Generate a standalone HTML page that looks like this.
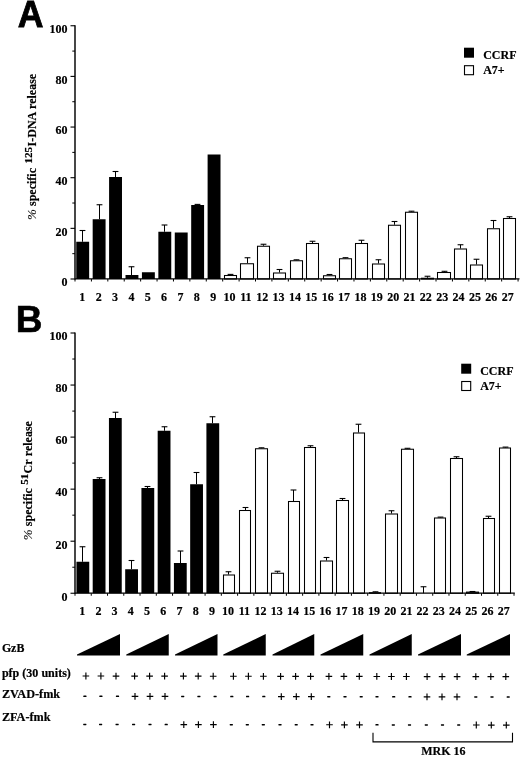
<!DOCTYPE html>
<html><head><meta charset="utf-8"><title>Figure</title>
<style>html,body{margin:0;padding:0;background:#fff}svg{display:block;will-change:transform}</style>
</head><body>
<svg width="520" height="757" viewBox="0 0 520 757">
<rect width="520" height="757" fill="#fff"/>
<text transform="translate(17.73,26.51) scale(0.99,1.031)" font-family="Liberation Sans, sans-serif" font-weight="bold" font-size="36" stroke="#000" stroke-width="0.8" stroke-linejoin="miter">A</text>
<text transform="translate(15.7,331.6) scale(1.027,1.033)" font-family="Liberation Sans, sans-serif" font-weight="bold" font-size="36" stroke="#000" stroke-width="0.6" stroke-linejoin="miter">B</text>
<line x1="75.0" y1="25.25" x2="75.0" y2="279.5" stroke="#000" stroke-width="1.45"/>
<line x1="70.5" y1="279.00" x2="75.0" y2="279.00" stroke="#000" stroke-width="1.1"/>
<text x="67.5" y="286.30" text-anchor="end" font-size="12" font-family="Liberation Serif, serif" font-weight="bold" stroke="#000" stroke-width="0.18">0</text>
<line x1="72.3" y1="253.68" x2="75.0" y2="253.68" stroke="#000" stroke-width="1"/>
<line x1="70.5" y1="228.35" x2="75.0" y2="228.35" stroke="#000" stroke-width="1.1"/>
<text x="67.5" y="235.65" text-anchor="end" font-size="12" font-family="Liberation Serif, serif" font-weight="bold" stroke="#000" stroke-width="0.18">20</text>
<line x1="72.3" y1="203.03" x2="75.0" y2="203.03" stroke="#000" stroke-width="1"/>
<line x1="70.5" y1="177.70" x2="75.0" y2="177.70" stroke="#000" stroke-width="1.1"/>
<text x="67.5" y="185.00" text-anchor="end" font-size="12" font-family="Liberation Serif, serif" font-weight="bold" stroke="#000" stroke-width="0.18">40</text>
<line x1="72.3" y1="152.38" x2="75.0" y2="152.38" stroke="#000" stroke-width="1"/>
<line x1="70.5" y1="127.05" x2="75.0" y2="127.05" stroke="#000" stroke-width="1.1"/>
<text x="67.5" y="134.35" text-anchor="end" font-size="12" font-family="Liberation Serif, serif" font-weight="bold" stroke="#000" stroke-width="0.18">60</text>
<line x1="72.3" y1="101.72" x2="75.0" y2="101.72" stroke="#000" stroke-width="1"/>
<line x1="70.5" y1="76.40" x2="75.0" y2="76.40" stroke="#000" stroke-width="1.1"/>
<text x="67.5" y="83.70" text-anchor="end" font-size="12" font-family="Liberation Serif, serif" font-weight="bold" stroke="#000" stroke-width="0.18">80</text>
<line x1="72.3" y1="51.08" x2="75.0" y2="51.08" stroke="#000" stroke-width="1"/>
<line x1="70.5" y1="25.75" x2="75.0" y2="25.75" stroke="#000" stroke-width="1.1"/>
<text x="67.5" y="33.05" text-anchor="end" font-size="12" font-family="Liberation Serif, serif" font-weight="bold" stroke="#000" stroke-width="0.18">100</text>
<line x1="82.50" y1="230.50" x2="82.50" y2="241.75" stroke="#000" stroke-width="1"/>
<line x1="79.60" y1="230.50" x2="85.40" y2="230.50" stroke="#000" stroke-width="1.1"/>
<rect x="76.25" y="241.75" width="12.90" height="37.25" fill="#000"/>
<line x1="99.50" y1="204.75" x2="99.50" y2="219.25" stroke="#000" stroke-width="1"/>
<line x1="96.60" y1="204.75" x2="102.40" y2="204.75" stroke="#000" stroke-width="1.1"/>
<rect x="92.67" y="219.25" width="12.90" height="59.75" fill="#000"/>
<line x1="115.50" y1="171.50" x2="115.50" y2="177.00" stroke="#000" stroke-width="1"/>
<line x1="112.60" y1="171.50" x2="118.40" y2="171.50" stroke="#000" stroke-width="1.1"/>
<rect x="109.09" y="177.00" width="12.90" height="102.00" fill="#000"/>
<line x1="131.50" y1="266.75" x2="131.50" y2="275.00" stroke="#000" stroke-width="1"/>
<line x1="128.60" y1="266.75" x2="134.40" y2="266.75" stroke="#000" stroke-width="1.1"/>
<rect x="125.51" y="275.00" width="12.90" height="4.00" fill="#000"/>
<rect x="141.93" y="272.25" width="12.90" height="6.75" fill="#000"/>
<line x1="164.50" y1="225.00" x2="164.50" y2="231.75" stroke="#000" stroke-width="1"/>
<line x1="161.60" y1="225.00" x2="167.40" y2="225.00" stroke="#000" stroke-width="1.1"/>
<rect x="158.35" y="231.75" width="12.90" height="47.25" fill="#000"/>
<rect x="174.77" y="232.50" width="12.90" height="46.50" fill="#000"/>
<line x1="197.50" y1="204.40" x2="197.50" y2="205.00" stroke="#000" stroke-width="1"/>
<line x1="194.60" y1="204.40" x2="200.40" y2="204.40" stroke="#000" stroke-width="1.1"/>
<rect x="191.19" y="205.00" width="12.90" height="74.00" fill="#000"/>
<rect x="207.61" y="154.50" width="12.90" height="124.50" fill="#000"/>
<line x1="230.50" y1="274.40" x2="230.50" y2="275.00" stroke="#000" stroke-width="1"/>
<line x1="227.60" y1="274.40" x2="233.40" y2="274.40" stroke="#000" stroke-width="1.1"/>
<rect x="224.50" y="275.50" width="12.00" height="3.50" fill="#fff" stroke="#000" stroke-width="1.05"/>
<line x1="247.50" y1="257.75" x2="247.50" y2="263.25" stroke="#000" stroke-width="1"/>
<line x1="244.60" y1="257.75" x2="250.40" y2="257.75" stroke="#000" stroke-width="1.1"/>
<rect x="240.50" y="263.75" width="13.00" height="15.25" fill="#fff" stroke="#000" stroke-width="1.05"/>
<line x1="263.50" y1="244.25" x2="263.50" y2="245.75" stroke="#000" stroke-width="1"/>
<line x1="260.60" y1="244.25" x2="266.40" y2="244.25" stroke="#000" stroke-width="1.1"/>
<rect x="257.50" y="246.25" width="12.00" height="32.75" fill="#fff" stroke="#000" stroke-width="1.05"/>
<line x1="279.50" y1="269.50" x2="279.50" y2="272.50" stroke="#000" stroke-width="1"/>
<line x1="276.60" y1="269.50" x2="282.40" y2="269.50" stroke="#000" stroke-width="1.1"/>
<rect x="273.50" y="273.00" width="12.00" height="6.00" fill="#fff" stroke="#000" stroke-width="1.05"/>
<line x1="296.50" y1="259.80" x2="296.50" y2="260.25" stroke="#000" stroke-width="1"/>
<line x1="293.60" y1="259.80" x2="299.40" y2="259.80" stroke="#000" stroke-width="1.1"/>
<rect x="290.50" y="260.75" width="12.00" height="18.25" fill="#fff" stroke="#000" stroke-width="1.05"/>
<line x1="312.50" y1="241.25" x2="312.50" y2="243.00" stroke="#000" stroke-width="1"/>
<line x1="309.60" y1="241.25" x2="315.40" y2="241.25" stroke="#000" stroke-width="1.1"/>
<rect x="306.50" y="243.50" width="12.00" height="35.50" fill="#fff" stroke="#000" stroke-width="1.05"/>
<line x1="329.50" y1="274.50" x2="329.50" y2="275.25" stroke="#000" stroke-width="1"/>
<line x1="326.60" y1="274.50" x2="332.40" y2="274.50" stroke="#000" stroke-width="1.1"/>
<rect x="323.50" y="275.75" width="12.00" height="3.25" fill="#fff" stroke="#000" stroke-width="1.05"/>
<line x1="345.50" y1="257.70" x2="345.50" y2="258.25" stroke="#000" stroke-width="1"/>
<line x1="342.60" y1="257.70" x2="348.40" y2="257.70" stroke="#000" stroke-width="1.1"/>
<rect x="339.50" y="258.75" width="12.00" height="20.25" fill="#fff" stroke="#000" stroke-width="1.05"/>
<line x1="361.50" y1="240.25" x2="361.50" y2="243.00" stroke="#000" stroke-width="1"/>
<line x1="358.60" y1="240.25" x2="364.40" y2="240.25" stroke="#000" stroke-width="1.1"/>
<rect x="355.50" y="243.50" width="12.00" height="35.50" fill="#fff" stroke="#000" stroke-width="1.05"/>
<line x1="378.50" y1="259.75" x2="378.50" y2="263.50" stroke="#000" stroke-width="1"/>
<line x1="375.60" y1="259.75" x2="381.40" y2="259.75" stroke="#000" stroke-width="1.1"/>
<rect x="372.50" y="264.00" width="12.00" height="15.00" fill="#fff" stroke="#000" stroke-width="1.05"/>
<line x1="394.50" y1="221.50" x2="394.50" y2="224.75" stroke="#000" stroke-width="1"/>
<line x1="391.60" y1="221.50" x2="397.40" y2="221.50" stroke="#000" stroke-width="1.1"/>
<rect x="388.50" y="225.25" width="12.00" height="53.75" fill="#fff" stroke="#000" stroke-width="1.05"/>
<line x1="411.50" y1="211.20" x2="411.50" y2="211.75" stroke="#000" stroke-width="1"/>
<line x1="408.60" y1="211.20" x2="414.40" y2="211.20" stroke="#000" stroke-width="1.1"/>
<rect x="405.50" y="212.25" width="12.00" height="66.75" fill="#fff" stroke="#000" stroke-width="1.05"/>
<line x1="427.50" y1="276.25" x2="427.50" y2="277.75" stroke="#000" stroke-width="1"/>
<line x1="424.60" y1="276.25" x2="430.40" y2="276.25" stroke="#000" stroke-width="1.1"/>
<rect x="421.50" y="278.25" width="12.00" height="0.75" fill="#fff" stroke="#000" stroke-width="1.05"/>
<line x1="444.50" y1="271.30" x2="444.50" y2="272.00" stroke="#000" stroke-width="1"/>
<line x1="441.60" y1="271.30" x2="447.40" y2="271.30" stroke="#000" stroke-width="1.1"/>
<rect x="437.50" y="272.50" width="13.00" height="6.50" fill="#fff" stroke="#000" stroke-width="1.05"/>
<line x1="460.50" y1="244.75" x2="460.50" y2="248.50" stroke="#000" stroke-width="1"/>
<line x1="457.60" y1="244.75" x2="463.40" y2="244.75" stroke="#000" stroke-width="1.1"/>
<rect x="454.50" y="249.00" width="12.00" height="30.00" fill="#fff" stroke="#000" stroke-width="1.05"/>
<line x1="476.50" y1="259.25" x2="476.50" y2="264.50" stroke="#000" stroke-width="1"/>
<line x1="473.60" y1="259.25" x2="479.40" y2="259.25" stroke="#000" stroke-width="1.1"/>
<rect x="470.50" y="265.00" width="12.00" height="14.00" fill="#fff" stroke="#000" stroke-width="1.05"/>
<line x1="493.50" y1="220.50" x2="493.50" y2="228.25" stroke="#000" stroke-width="1"/>
<line x1="490.60" y1="220.50" x2="496.40" y2="220.50" stroke="#000" stroke-width="1.1"/>
<rect x="487.50" y="228.75" width="12.00" height="50.25" fill="#fff" stroke="#000" stroke-width="1.05"/>
<line x1="509.50" y1="216.75" x2="509.50" y2="218.00" stroke="#000" stroke-width="1"/>
<line x1="506.60" y1="216.75" x2="512.40" y2="216.75" stroke="#000" stroke-width="1.1"/>
<rect x="503.50" y="218.50" width="12.00" height="60.50" fill="#fff" stroke="#000" stroke-width="1.05"/>
<line x1="75.0" y1="278.9" x2="519.5" y2="278.9" stroke="#000" stroke-width="1.4"/>
<line x1="75.00" y1="279.0" x2="75.00" y2="281.5" stroke="#000" stroke-width="1"/>
<line x1="91.41" y1="279.0" x2="91.41" y2="281.5" stroke="#000" stroke-width="1"/>
<line x1="107.82" y1="279.0" x2="107.82" y2="281.5" stroke="#000" stroke-width="1"/>
<line x1="124.23" y1="279.0" x2="124.23" y2="281.5" stroke="#000" stroke-width="1"/>
<line x1="140.64" y1="279.0" x2="140.64" y2="281.5" stroke="#000" stroke-width="1"/>
<line x1="157.05" y1="279.0" x2="157.05" y2="281.5" stroke="#000" stroke-width="1"/>
<line x1="173.46" y1="279.0" x2="173.46" y2="281.5" stroke="#000" stroke-width="1"/>
<line x1="189.87" y1="279.0" x2="189.87" y2="281.5" stroke="#000" stroke-width="1"/>
<line x1="206.28" y1="279.0" x2="206.28" y2="281.5" stroke="#000" stroke-width="1"/>
<line x1="222.69" y1="279.0" x2="222.69" y2="281.5" stroke="#000" stroke-width="1"/>
<line x1="239.10" y1="279.0" x2="239.10" y2="281.5" stroke="#000" stroke-width="1"/>
<line x1="255.51" y1="279.0" x2="255.51" y2="281.5" stroke="#000" stroke-width="1"/>
<line x1="271.92" y1="279.0" x2="271.92" y2="281.5" stroke="#000" stroke-width="1"/>
<line x1="288.33" y1="279.0" x2="288.33" y2="281.5" stroke="#000" stroke-width="1"/>
<line x1="304.74" y1="279.0" x2="304.74" y2="281.5" stroke="#000" stroke-width="1"/>
<line x1="321.15" y1="279.0" x2="321.15" y2="281.5" stroke="#000" stroke-width="1"/>
<line x1="337.56" y1="279.0" x2="337.56" y2="281.5" stroke="#000" stroke-width="1"/>
<line x1="353.97" y1="279.0" x2="353.97" y2="281.5" stroke="#000" stroke-width="1"/>
<line x1="370.38" y1="279.0" x2="370.38" y2="281.5" stroke="#000" stroke-width="1"/>
<line x1="386.79" y1="279.0" x2="386.79" y2="281.5" stroke="#000" stroke-width="1"/>
<line x1="403.20" y1="279.0" x2="403.20" y2="281.5" stroke="#000" stroke-width="1"/>
<line x1="419.61" y1="279.0" x2="419.61" y2="281.5" stroke="#000" stroke-width="1"/>
<line x1="436.02" y1="279.0" x2="436.02" y2="281.5" stroke="#000" stroke-width="1"/>
<line x1="452.43" y1="279.0" x2="452.43" y2="281.5" stroke="#000" stroke-width="1"/>
<line x1="468.84" y1="279.0" x2="468.84" y2="281.5" stroke="#000" stroke-width="1"/>
<line x1="485.25" y1="279.0" x2="485.25" y2="281.5" stroke="#000" stroke-width="1"/>
<line x1="501.66" y1="279.0" x2="501.66" y2="281.5" stroke="#000" stroke-width="1"/>
<line x1="518.07" y1="279.0" x2="518.07" y2="281.5" stroke="#000" stroke-width="1"/>
<text x="82.30" y="300.8" text-anchor="middle" font-size="12" font-family="Liberation Serif, serif" font-weight="bold" stroke="#000" stroke-width="0.18">1</text>
<text x="98.66" y="300.8" text-anchor="middle" font-size="12" font-family="Liberation Serif, serif" font-weight="bold" stroke="#000" stroke-width="0.18">2</text>
<text x="115.02" y="300.8" text-anchor="middle" font-size="12" font-family="Liberation Serif, serif" font-weight="bold" stroke="#000" stroke-width="0.18">3</text>
<text x="131.38" y="300.8" text-anchor="middle" font-size="12" font-family="Liberation Serif, serif" font-weight="bold" stroke="#000" stroke-width="0.18">4</text>
<text x="147.74" y="300.8" text-anchor="middle" font-size="12" font-family="Liberation Serif, serif" font-weight="bold" stroke="#000" stroke-width="0.18">5</text>
<text x="164.10" y="300.8" text-anchor="middle" font-size="12" font-family="Liberation Serif, serif" font-weight="bold" stroke="#000" stroke-width="0.18">6</text>
<text x="180.46" y="300.8" text-anchor="middle" font-size="12" font-family="Liberation Serif, serif" font-weight="bold" stroke="#000" stroke-width="0.18">7</text>
<text x="196.82" y="300.8" text-anchor="middle" font-size="12" font-family="Liberation Serif, serif" font-weight="bold" stroke="#000" stroke-width="0.18">8</text>
<text x="213.18" y="300.8" text-anchor="middle" font-size="12" font-family="Liberation Serif, serif" font-weight="bold" stroke="#000" stroke-width="0.18">9</text>
<text x="229.54" y="300.8" text-anchor="middle" font-size="12" font-family="Liberation Serif, serif" font-weight="bold" stroke="#000" stroke-width="0.18">10</text>
<text x="245.90" y="300.8" text-anchor="middle" font-size="12" font-family="Liberation Serif, serif" font-weight="bold" stroke="#000" stroke-width="0.18">11</text>
<text x="262.26" y="300.8" text-anchor="middle" font-size="12" font-family="Liberation Serif, serif" font-weight="bold" stroke="#000" stroke-width="0.18">12</text>
<text x="278.62" y="300.8" text-anchor="middle" font-size="12" font-family="Liberation Serif, serif" font-weight="bold" stroke="#000" stroke-width="0.18">13</text>
<text x="294.98" y="300.8" text-anchor="middle" font-size="12" font-family="Liberation Serif, serif" font-weight="bold" stroke="#000" stroke-width="0.18">14</text>
<text x="311.34" y="300.8" text-anchor="middle" font-size="12" font-family="Liberation Serif, serif" font-weight="bold" stroke="#000" stroke-width="0.18">15</text>
<text x="327.70" y="300.8" text-anchor="middle" font-size="12" font-family="Liberation Serif, serif" font-weight="bold" stroke="#000" stroke-width="0.18">16</text>
<text x="344.06" y="300.8" text-anchor="middle" font-size="12" font-family="Liberation Serif, serif" font-weight="bold" stroke="#000" stroke-width="0.18">17</text>
<text x="360.42" y="300.8" text-anchor="middle" font-size="12" font-family="Liberation Serif, serif" font-weight="bold" stroke="#000" stroke-width="0.18">18</text>
<text x="376.78" y="300.8" text-anchor="middle" font-size="12" font-family="Liberation Serif, serif" font-weight="bold" stroke="#000" stroke-width="0.18">19</text>
<text x="393.14" y="300.8" text-anchor="middle" font-size="12" font-family="Liberation Serif, serif" font-weight="bold" stroke="#000" stroke-width="0.18">20</text>
<text x="409.50" y="300.8" text-anchor="middle" font-size="12" font-family="Liberation Serif, serif" font-weight="bold" stroke="#000" stroke-width="0.18">21</text>
<text x="425.86" y="300.8" text-anchor="middle" font-size="12" font-family="Liberation Serif, serif" font-weight="bold" stroke="#000" stroke-width="0.18">22</text>
<text x="442.22" y="300.8" text-anchor="middle" font-size="12" font-family="Liberation Serif, serif" font-weight="bold" stroke="#000" stroke-width="0.18">23</text>
<text x="458.58" y="300.8" text-anchor="middle" font-size="12" font-family="Liberation Serif, serif" font-weight="bold" stroke="#000" stroke-width="0.18">24</text>
<text x="474.94" y="300.8" text-anchor="middle" font-size="12" font-family="Liberation Serif, serif" font-weight="bold" stroke="#000" stroke-width="0.18">25</text>
<text x="491.30" y="300.8" text-anchor="middle" font-size="12" font-family="Liberation Serif, serif" font-weight="bold" stroke="#000" stroke-width="0.18">26</text>
<text x="507.66" y="300.8" text-anchor="middle" font-size="12" font-family="Liberation Serif, serif" font-weight="bold" stroke="#000" stroke-width="0.18">27</text>
<rect x="464" y="47.7" width="10" height="10" fill="#000"/>
<rect x="464.5" y="65.7" width="9" height="9" fill="#fff" stroke="#000" stroke-width="1.1"/>
<text x="483.2" y="58.6" font-size="12" font-family="Liberation Serif, serif" font-weight="bold" stroke="#000" stroke-width="0.18">CCRF</text>
<text x="483.2" y="74.4" font-size="12" font-family="Liberation Serif, serif" font-weight="bold" stroke="#000" stroke-width="0.18">A7+</text>
<text transform="translate(36.4,220) rotate(-90)" font-family="Liberation Serif, serif" font-weight="normal" font-style="italic" font-size="13" stroke="#000" stroke-width="0.1">%</text>
<text transform="translate(36.4,206) rotate(-90)" font-family="Liberation Serif, serif" font-weight="bold" font-size="12" stroke="#000" stroke-width="0.18">specific</text>
<text transform="translate(31.6,163.6) rotate(-90)" font-family="Liberation Serif, serif" font-weight="bold" font-size="11" stroke="#000" stroke-width="0.18">125</text>
<text transform="translate(36.4,146.4) rotate(-90)" font-family="Liberation Serif, serif" font-weight="bold" font-size="12" stroke="#000" stroke-width="0.18">I-DNA</text>
<text transform="translate(36.4,108.9) rotate(-90)" font-family="Liberation Serif, serif" font-weight="bold" font-size="12" stroke="#000" stroke-width="0.18">release</text>
<line x1="75.0" y1="332.5" x2="75.0" y2="593.75" stroke="#000" stroke-width="1.45"/>
<line x1="70.5" y1="593.25" x2="75.0" y2="593.25" stroke="#000" stroke-width="1.1"/>
<text x="67.5" y="600.55" text-anchor="end" font-size="12" font-family="Liberation Serif, serif" font-weight="bold" stroke="#000" stroke-width="0.18">0</text>
<line x1="72.3" y1="567.23" x2="75.0" y2="567.23" stroke="#000" stroke-width="1"/>
<line x1="70.5" y1="541.20" x2="75.0" y2="541.20" stroke="#000" stroke-width="1.1"/>
<text x="67.5" y="548.50" text-anchor="end" font-size="12" font-family="Liberation Serif, serif" font-weight="bold" stroke="#000" stroke-width="0.18">20</text>
<line x1="72.3" y1="515.17" x2="75.0" y2="515.17" stroke="#000" stroke-width="1"/>
<line x1="70.5" y1="489.15" x2="75.0" y2="489.15" stroke="#000" stroke-width="1.1"/>
<text x="67.5" y="496.45" text-anchor="end" font-size="12" font-family="Liberation Serif, serif" font-weight="bold" stroke="#000" stroke-width="0.18">40</text>
<line x1="72.3" y1="463.12" x2="75.0" y2="463.12" stroke="#000" stroke-width="1"/>
<line x1="70.5" y1="437.10" x2="75.0" y2="437.10" stroke="#000" stroke-width="1.1"/>
<text x="67.5" y="444.40" text-anchor="end" font-size="12" font-family="Liberation Serif, serif" font-weight="bold" stroke="#000" stroke-width="0.18">60</text>
<line x1="72.3" y1="411.08" x2="75.0" y2="411.08" stroke="#000" stroke-width="1"/>
<line x1="70.5" y1="385.05" x2="75.0" y2="385.05" stroke="#000" stroke-width="1.1"/>
<text x="67.5" y="392.35" text-anchor="end" font-size="12" font-family="Liberation Serif, serif" font-weight="bold" stroke="#000" stroke-width="0.18">80</text>
<line x1="72.3" y1="359.02" x2="75.0" y2="359.02" stroke="#000" stroke-width="1"/>
<line x1="70.5" y1="333.00" x2="75.0" y2="333.00" stroke="#000" stroke-width="1.1"/>
<text x="67.5" y="340.30" text-anchor="end" font-size="12" font-family="Liberation Serif, serif" font-weight="bold" stroke="#000" stroke-width="0.18">100</text>
<line x1="82.50" y1="546.75" x2="82.50" y2="561.75" stroke="#000" stroke-width="1"/>
<line x1="79.60" y1="546.75" x2="85.40" y2="546.75" stroke="#000" stroke-width="1.1"/>
<rect x="76.45" y="561.75" width="12.80" height="31.50" fill="#000"/>
<line x1="99.50" y1="477.75" x2="99.50" y2="479.00" stroke="#000" stroke-width="1"/>
<line x1="96.60" y1="477.75" x2="102.40" y2="477.75" stroke="#000" stroke-width="1.1"/>
<rect x="92.70" y="479.00" width="12.80" height="114.25" fill="#000"/>
<line x1="115.50" y1="412.25" x2="115.50" y2="418.00" stroke="#000" stroke-width="1"/>
<line x1="112.60" y1="412.25" x2="118.40" y2="412.25" stroke="#000" stroke-width="1.1"/>
<rect x="108.94" y="418.00" width="12.80" height="175.25" fill="#000"/>
<line x1="131.50" y1="560.50" x2="131.50" y2="569.25" stroke="#000" stroke-width="1"/>
<line x1="128.60" y1="560.50" x2="134.40" y2="560.50" stroke="#000" stroke-width="1.1"/>
<rect x="125.19" y="569.25" width="12.80" height="24.00" fill="#000"/>
<line x1="147.50" y1="486.50" x2="147.50" y2="488.00" stroke="#000" stroke-width="1"/>
<line x1="144.60" y1="486.50" x2="150.40" y2="486.50" stroke="#000" stroke-width="1.1"/>
<rect x="141.43" y="488.00" width="12.80" height="105.25" fill="#000"/>
<line x1="164.50" y1="426.75" x2="164.50" y2="430.75" stroke="#000" stroke-width="1"/>
<line x1="161.60" y1="426.75" x2="167.40" y2="426.75" stroke="#000" stroke-width="1.1"/>
<rect x="157.68" y="430.75" width="12.80" height="162.50" fill="#000"/>
<line x1="180.50" y1="551.00" x2="180.50" y2="563.00" stroke="#000" stroke-width="1"/>
<line x1="177.60" y1="551.00" x2="183.40" y2="551.00" stroke="#000" stroke-width="1.1"/>
<rect x="173.92" y="563.00" width="12.80" height="30.25" fill="#000"/>
<line x1="196.50" y1="472.50" x2="196.50" y2="484.25" stroke="#000" stroke-width="1"/>
<line x1="193.60" y1="472.50" x2="199.40" y2="472.50" stroke="#000" stroke-width="1.1"/>
<rect x="190.17" y="484.25" width="12.80" height="109.00" fill="#000"/>
<line x1="212.50" y1="416.75" x2="212.50" y2="423.25" stroke="#000" stroke-width="1"/>
<line x1="209.60" y1="416.75" x2="215.40" y2="416.75" stroke="#000" stroke-width="1.1"/>
<rect x="206.41" y="423.25" width="12.80" height="170.00" fill="#000"/>
<line x1="228.50" y1="571.75" x2="228.50" y2="574.50" stroke="#000" stroke-width="1"/>
<line x1="225.60" y1="571.75" x2="231.40" y2="571.75" stroke="#000" stroke-width="1.1"/>
<rect x="223.50" y="575.00" width="11.00" height="18.25" fill="#fff" stroke="#000" stroke-width="1.05"/>
<line x1="245.50" y1="507.50" x2="245.50" y2="510.00" stroke="#000" stroke-width="1"/>
<line x1="242.60" y1="507.50" x2="248.40" y2="507.50" stroke="#000" stroke-width="1.1"/>
<rect x="239.50" y="510.50" width="11.00" height="82.75" fill="#fff" stroke="#000" stroke-width="1.05"/>
<line x1="261.50" y1="447.80" x2="261.50" y2="448.25" stroke="#000" stroke-width="1"/>
<line x1="258.60" y1="447.80" x2="264.40" y2="447.80" stroke="#000" stroke-width="1.1"/>
<rect x="255.50" y="448.75" width="12.00" height="144.50" fill="#fff" stroke="#000" stroke-width="1.05"/>
<line x1="277.50" y1="571.25" x2="277.50" y2="572.75" stroke="#000" stroke-width="1"/>
<line x1="274.60" y1="571.25" x2="280.40" y2="571.25" stroke="#000" stroke-width="1.1"/>
<rect x="271.50" y="573.25" width="12.00" height="20.00" fill="#fff" stroke="#000" stroke-width="1.05"/>
<line x1="293.50" y1="490.00" x2="293.50" y2="501.00" stroke="#000" stroke-width="1"/>
<line x1="290.60" y1="490.00" x2="296.40" y2="490.00" stroke="#000" stroke-width="1.1"/>
<rect x="288.50" y="501.50" width="11.00" height="91.75" fill="#fff" stroke="#000" stroke-width="1.05"/>
<line x1="310.50" y1="445.75" x2="310.50" y2="447.00" stroke="#000" stroke-width="1"/>
<line x1="307.60" y1="445.75" x2="313.40" y2="445.75" stroke="#000" stroke-width="1.1"/>
<rect x="304.50" y="447.50" width="11.00" height="145.75" fill="#fff" stroke="#000" stroke-width="1.05"/>
<line x1="326.50" y1="557.50" x2="326.50" y2="560.50" stroke="#000" stroke-width="1"/>
<line x1="323.60" y1="557.50" x2="329.40" y2="557.50" stroke="#000" stroke-width="1.1"/>
<rect x="320.50" y="561.00" width="12.00" height="32.25" fill="#fff" stroke="#000" stroke-width="1.05"/>
<line x1="342.50" y1="498.50" x2="342.50" y2="500.00" stroke="#000" stroke-width="1"/>
<line x1="339.60" y1="498.50" x2="345.40" y2="498.50" stroke="#000" stroke-width="1.1"/>
<rect x="336.50" y="500.50" width="12.00" height="92.75" fill="#fff" stroke="#000" stroke-width="1.05"/>
<line x1="358.50" y1="424.25" x2="358.50" y2="432.50" stroke="#000" stroke-width="1"/>
<line x1="355.60" y1="424.25" x2="361.40" y2="424.25" stroke="#000" stroke-width="1.1"/>
<rect x="353.50" y="433.00" width="11.00" height="160.25" fill="#fff" stroke="#000" stroke-width="1.05"/>
<line x1="375.50" y1="591.80" x2="375.50" y2="592.20" stroke="#000" stroke-width="1"/>
<line x1="372.60" y1="591.80" x2="378.40" y2="591.80" stroke="#000" stroke-width="1.1"/>
<rect x="369.50" y="592.70" width="11.00" height="0.55" fill="#fff" stroke="#000" stroke-width="1.05"/>
<line x1="391.50" y1="510.75" x2="391.50" y2="513.50" stroke="#000" stroke-width="1"/>
<line x1="388.60" y1="510.75" x2="394.40" y2="510.75" stroke="#000" stroke-width="1.1"/>
<rect x="385.50" y="514.00" width="12.00" height="79.25" fill="#fff" stroke="#000" stroke-width="1.05"/>
<line x1="407.50" y1="448.30" x2="407.50" y2="448.75" stroke="#000" stroke-width="1"/>
<line x1="404.60" y1="448.30" x2="410.40" y2="448.30" stroke="#000" stroke-width="1.1"/>
<rect x="401.50" y="449.25" width="12.00" height="144.00" fill="#fff" stroke="#000" stroke-width="1.05"/>
<line x1="423.50" y1="586.75" x2="423.50" y2="593.25" stroke="#000" stroke-width="1"/>
<line x1="420.60" y1="586.75" x2="426.40" y2="586.75" stroke="#000" stroke-width="1.1"/>
<line x1="440.50" y1="517.10" x2="440.50" y2="517.50" stroke="#000" stroke-width="1"/>
<line x1="437.60" y1="517.10" x2="443.40" y2="517.10" stroke="#000" stroke-width="1.1"/>
<rect x="434.50" y="518.00" width="11.00" height="75.25" fill="#fff" stroke="#000" stroke-width="1.05"/>
<line x1="456.50" y1="456.75" x2="456.50" y2="458.00" stroke="#000" stroke-width="1"/>
<line x1="453.60" y1="456.75" x2="459.40" y2="456.75" stroke="#000" stroke-width="1.1"/>
<rect x="450.50" y="458.50" width="12.00" height="134.75" fill="#fff" stroke="#000" stroke-width="1.05"/>
<line x1="472.50" y1="591.50" x2="472.50" y2="591.60" stroke="#000" stroke-width="1"/>
<line x1="469.60" y1="591.50" x2="475.40" y2="591.50" stroke="#000" stroke-width="1.1"/>
<rect x="466.50" y="592.10" width="12.00" height="1.15" fill="#fff" stroke="#000" stroke-width="1.05"/>
<line x1="488.50" y1="516.25" x2="488.50" y2="518.00" stroke="#000" stroke-width="1"/>
<line x1="485.60" y1="516.25" x2="491.40" y2="516.25" stroke="#000" stroke-width="1.1"/>
<rect x="483.50" y="518.50" width="11.00" height="74.75" fill="#fff" stroke="#000" stroke-width="1.05"/>
<line x1="505.50" y1="447.10" x2="505.50" y2="447.50" stroke="#000" stroke-width="1"/>
<line x1="502.60" y1="447.10" x2="508.40" y2="447.10" stroke="#000" stroke-width="1.1"/>
<rect x="499.50" y="448.00" width="11.00" height="145.25" fill="#fff" stroke="#000" stroke-width="1.05"/>
<line x1="75.0" y1="593.15" x2="514.8" y2="593.15" stroke="#000" stroke-width="1.4"/>
<line x1="75.00" y1="593.25" x2="75.00" y2="595.75" stroke="#000" stroke-width="1"/>
<line x1="91.26" y1="593.25" x2="91.26" y2="595.75" stroke="#000" stroke-width="1"/>
<line x1="107.52" y1="593.25" x2="107.52" y2="595.75" stroke="#000" stroke-width="1"/>
<line x1="123.78" y1="593.25" x2="123.78" y2="595.75" stroke="#000" stroke-width="1"/>
<line x1="140.04" y1="593.25" x2="140.04" y2="595.75" stroke="#000" stroke-width="1"/>
<line x1="156.30" y1="593.25" x2="156.30" y2="595.75" stroke="#000" stroke-width="1"/>
<line x1="172.56" y1="593.25" x2="172.56" y2="595.75" stroke="#000" stroke-width="1"/>
<line x1="188.82" y1="593.25" x2="188.82" y2="595.75" stroke="#000" stroke-width="1"/>
<line x1="205.08" y1="593.25" x2="205.08" y2="595.75" stroke="#000" stroke-width="1"/>
<line x1="221.34" y1="593.25" x2="221.34" y2="595.75" stroke="#000" stroke-width="1"/>
<line x1="237.60" y1="593.25" x2="237.60" y2="595.75" stroke="#000" stroke-width="1"/>
<line x1="253.86" y1="593.25" x2="253.86" y2="595.75" stroke="#000" stroke-width="1"/>
<line x1="270.12" y1="593.25" x2="270.12" y2="595.75" stroke="#000" stroke-width="1"/>
<line x1="286.38" y1="593.25" x2="286.38" y2="595.75" stroke="#000" stroke-width="1"/>
<line x1="302.64" y1="593.25" x2="302.64" y2="595.75" stroke="#000" stroke-width="1"/>
<line x1="318.90" y1="593.25" x2="318.90" y2="595.75" stroke="#000" stroke-width="1"/>
<line x1="335.16" y1="593.25" x2="335.16" y2="595.75" stroke="#000" stroke-width="1"/>
<line x1="351.42" y1="593.25" x2="351.42" y2="595.75" stroke="#000" stroke-width="1"/>
<line x1="367.68" y1="593.25" x2="367.68" y2="595.75" stroke="#000" stroke-width="1"/>
<line x1="383.94" y1="593.25" x2="383.94" y2="595.75" stroke="#000" stroke-width="1"/>
<line x1="400.20" y1="593.25" x2="400.20" y2="595.75" stroke="#000" stroke-width="1"/>
<line x1="416.46" y1="593.25" x2="416.46" y2="595.75" stroke="#000" stroke-width="1"/>
<line x1="432.72" y1="593.25" x2="432.72" y2="595.75" stroke="#000" stroke-width="1"/>
<line x1="448.98" y1="593.25" x2="448.98" y2="595.75" stroke="#000" stroke-width="1"/>
<line x1="465.24" y1="593.25" x2="465.24" y2="595.75" stroke="#000" stroke-width="1"/>
<line x1="481.50" y1="593.25" x2="481.50" y2="595.75" stroke="#000" stroke-width="1"/>
<line x1="497.76" y1="593.25" x2="497.76" y2="595.75" stroke="#000" stroke-width="1"/>
<line x1="514.02" y1="593.25" x2="514.02" y2="595.75" stroke="#000" stroke-width="1"/>
<text x="82.20" y="614.8" text-anchor="middle" font-size="12" font-family="Liberation Serif, serif" font-weight="bold" stroke="#000" stroke-width="0.18">1</text>
<text x="98.41" y="614.8" text-anchor="middle" font-size="12" font-family="Liberation Serif, serif" font-weight="bold" stroke="#000" stroke-width="0.18">2</text>
<text x="114.62" y="614.8" text-anchor="middle" font-size="12" font-family="Liberation Serif, serif" font-weight="bold" stroke="#000" stroke-width="0.18">3</text>
<text x="130.83" y="614.8" text-anchor="middle" font-size="12" font-family="Liberation Serif, serif" font-weight="bold" stroke="#000" stroke-width="0.18">4</text>
<text x="147.04" y="614.8" text-anchor="middle" font-size="12" font-family="Liberation Serif, serif" font-weight="bold" stroke="#000" stroke-width="0.18">5</text>
<text x="163.25" y="614.8" text-anchor="middle" font-size="12" font-family="Liberation Serif, serif" font-weight="bold" stroke="#000" stroke-width="0.18">6</text>
<text x="179.46" y="614.8" text-anchor="middle" font-size="12" font-family="Liberation Serif, serif" font-weight="bold" stroke="#000" stroke-width="0.18">7</text>
<text x="195.67" y="614.8" text-anchor="middle" font-size="12" font-family="Liberation Serif, serif" font-weight="bold" stroke="#000" stroke-width="0.18">8</text>
<text x="211.88" y="614.8" text-anchor="middle" font-size="12" font-family="Liberation Serif, serif" font-weight="bold" stroke="#000" stroke-width="0.18">9</text>
<text x="228.09" y="614.8" text-anchor="middle" font-size="12" font-family="Liberation Serif, serif" font-weight="bold" stroke="#000" stroke-width="0.18">10</text>
<text x="244.30" y="614.8" text-anchor="middle" font-size="12" font-family="Liberation Serif, serif" font-weight="bold" stroke="#000" stroke-width="0.18">11</text>
<text x="260.51" y="614.8" text-anchor="middle" font-size="12" font-family="Liberation Serif, serif" font-weight="bold" stroke="#000" stroke-width="0.18">12</text>
<text x="276.72" y="614.8" text-anchor="middle" font-size="12" font-family="Liberation Serif, serif" font-weight="bold" stroke="#000" stroke-width="0.18">13</text>
<text x="292.93" y="614.8" text-anchor="middle" font-size="12" font-family="Liberation Serif, serif" font-weight="bold" stroke="#000" stroke-width="0.18">14</text>
<text x="309.14" y="614.8" text-anchor="middle" font-size="12" font-family="Liberation Serif, serif" font-weight="bold" stroke="#000" stroke-width="0.18">15</text>
<text x="325.35" y="614.8" text-anchor="middle" font-size="12" font-family="Liberation Serif, serif" font-weight="bold" stroke="#000" stroke-width="0.18">16</text>
<text x="341.56" y="614.8" text-anchor="middle" font-size="12" font-family="Liberation Serif, serif" font-weight="bold" stroke="#000" stroke-width="0.18">17</text>
<text x="357.77" y="614.8" text-anchor="middle" font-size="12" font-family="Liberation Serif, serif" font-weight="bold" stroke="#000" stroke-width="0.18">18</text>
<text x="373.98" y="614.8" text-anchor="middle" font-size="12" font-family="Liberation Serif, serif" font-weight="bold" stroke="#000" stroke-width="0.18">19</text>
<text x="390.19" y="614.8" text-anchor="middle" font-size="12" font-family="Liberation Serif, serif" font-weight="bold" stroke="#000" stroke-width="0.18">20</text>
<text x="406.40" y="614.8" text-anchor="middle" font-size="12" font-family="Liberation Serif, serif" font-weight="bold" stroke="#000" stroke-width="0.18">21</text>
<text x="422.61" y="614.8" text-anchor="middle" font-size="12" font-family="Liberation Serif, serif" font-weight="bold" stroke="#000" stroke-width="0.18">22</text>
<text x="438.82" y="614.8" text-anchor="middle" font-size="12" font-family="Liberation Serif, serif" font-weight="bold" stroke="#000" stroke-width="0.18">23</text>
<text x="455.03" y="614.8" text-anchor="middle" font-size="12" font-family="Liberation Serif, serif" font-weight="bold" stroke="#000" stroke-width="0.18">24</text>
<text x="471.24" y="614.8" text-anchor="middle" font-size="12" font-family="Liberation Serif, serif" font-weight="bold" stroke="#000" stroke-width="0.18">25</text>
<text x="487.45" y="614.8" text-anchor="middle" font-size="12" font-family="Liberation Serif, serif" font-weight="bold" stroke="#000" stroke-width="0.18">26</text>
<text x="503.66" y="614.8" text-anchor="middle" font-size="12" font-family="Liberation Serif, serif" font-weight="bold" stroke="#000" stroke-width="0.18">27</text>
<rect x="461.2" y="363.7" width="10" height="10" fill="#000"/>
<rect x="461.7" y="381.5" width="9" height="9" fill="#fff" stroke="#000" stroke-width="1.1"/>
<text x="480.2" y="374.5" font-size="12" font-family="Liberation Serif, serif" font-weight="bold" stroke="#000" stroke-width="0.18">CCRF</text>
<text x="480.2" y="390.2" font-size="12" font-family="Liberation Serif, serif" font-weight="bold" stroke="#000" stroke-width="0.18">A7+</text>
<text transform="translate(32,540.3) rotate(-90)" font-family="Liberation Serif, serif" font-weight="normal" font-style="italic" font-size="13" stroke="#000" stroke-width="0.1">%</text>
<text transform="translate(32,526.2) rotate(-90)" font-family="Liberation Serif, serif" font-weight="bold" font-size="12" stroke="#000" stroke-width="0.18">specific</text>
<text transform="translate(27.5,484.8) rotate(-90)" font-family="Liberation Serif, serif" font-weight="bold" font-size="11" stroke="#000" stroke-width="0.18">51</text>
<text transform="translate(32,473.4) rotate(-90)" font-family="Liberation Serif, serif" font-weight="bold" font-size="12" stroke="#000" stroke-width="0.18">Cr</text>
<text transform="translate(32,456.2) rotate(-90)" font-family="Liberation Serif, serif" font-weight="bold" font-size="12" stroke="#000" stroke-width="0.18">release</text>
<polygon points="77,655.4 77,654.6 120,634.1 120,655.4" fill="#000"/>
<polygon points="126.25,655.4 126.25,654.6 168.75,634.1 168.75,655.4" fill="#000"/>
<polygon points="175,655.4 175,654.6 217.5,634.1 217.5,655.4" fill="#000"/>
<polygon points="223.25,655.4 223.25,654.6 265.75,634.1 265.75,655.4" fill="#000"/>
<polygon points="272.5,655.4 272.5,654.6 314.25,634.1 314.25,655.4" fill="#000"/>
<polygon points="320.5,655.4 320.5,654.6 363.25,634.1 363.25,655.4" fill="#000"/>
<polygon points="369.5,655.4 369.5,654.6 411.75,634.1 411.75,655.4" fill="#000"/>
<polygon points="418,655.4 418,654.6 461,634.1 461,655.4" fill="#000"/>
<polygon points="466.75,655.4 466.75,654.6 510,634.1 510,655.4" fill="#000"/>
<text x="1.9" y="652.3" font-size="12" textLength="22.4" lengthAdjust="spacingAndGlyphs" font-family="Liberation Serif, serif" font-weight="bold" stroke="#000" stroke-width="0.18">GzB</text>
<text x="1.9" y="677.2" font-size="12" textLength="69" lengthAdjust="spacingAndGlyphs" font-family="Liberation Serif, serif" font-weight="bold" stroke="#000" stroke-width="0.18">pfp (30 units)</text>
<text x="1.9" y="697.6" font-size="12" textLength="58.3" lengthAdjust="spacingAndGlyphs" font-family="Liberation Serif, serif" font-weight="bold" stroke="#000" stroke-width="0.18">ZVAD-fmk</text>
<text x="1.9" y="720.6" font-size="12" textLength="48.6" lengthAdjust="spacingAndGlyphs" font-family="Liberation Serif, serif" font-weight="bold" stroke="#000" stroke-width="0.18">ZFA-fmk</text>
<path d="M82.60 676.00H89.20M85.90 672.60V679.40" stroke="#000" stroke-width="1.15" fill="none"/>
<path d="M97.60 676.02H104.20M100.90 672.62V679.42" stroke="#000" stroke-width="1.15" fill="none"/>
<path d="M112.70 676.05H119.30M116.00 672.65V679.45" stroke="#000" stroke-width="1.15" fill="none"/>
<path d="M131.30 676.08H137.90M134.60 672.68V679.48" stroke="#000" stroke-width="1.15" fill="none"/>
<path d="M146.30 676.10H152.90M149.60 672.70V679.50" stroke="#000" stroke-width="1.15" fill="none"/>
<path d="M161.30 676.13H167.90M164.60 672.73V679.53" stroke="#000" stroke-width="1.15" fill="none"/>
<path d="M180.10 676.16H186.70M183.40 672.76V679.56" stroke="#000" stroke-width="1.15" fill="none"/>
<path d="M194.90 676.18H201.50M198.20 672.78V679.58" stroke="#000" stroke-width="1.15" fill="none"/>
<path d="M209.90 676.20H216.50M213.20 672.80V679.60" stroke="#000" stroke-width="1.15" fill="none"/>
<path d="M230.10 676.24H236.70M233.40 672.84V679.64" stroke="#000" stroke-width="1.15" fill="none"/>
<path d="M245.10 676.26H251.70M248.40 672.86V679.66" stroke="#000" stroke-width="1.15" fill="none"/>
<path d="M260.10 676.28H266.70M263.40 672.88V679.68" stroke="#000" stroke-width="1.15" fill="none"/>
<path d="M277.30 676.31H283.90M280.60 672.91V679.71" stroke="#000" stroke-width="1.15" fill="none"/>
<path d="M292.30 676.34H298.90M295.60 672.94V679.74" stroke="#000" stroke-width="1.15" fill="none"/>
<path d="M307.30 676.36H313.90M310.60 672.96V679.76" stroke="#000" stroke-width="1.15" fill="none"/>
<path d="M325.60 676.39H332.20M328.90 672.99V679.79" stroke="#000" stroke-width="1.15" fill="none"/>
<path d="M340.60 676.41H347.20M343.90 673.01V679.81" stroke="#000" stroke-width="1.15" fill="none"/>
<path d="M356.00 676.44H362.60M359.30 673.04V679.84" stroke="#000" stroke-width="1.15" fill="none"/>
<path d="M373.50 676.47H380.10M376.80 673.07V679.87" stroke="#000" stroke-width="1.15" fill="none"/>
<path d="M388.10 676.49H394.70M391.40 673.09V679.89" stroke="#000" stroke-width="1.15" fill="none"/>
<path d="M403.10 676.51H409.70M406.40 673.11V679.91" stroke="#000" stroke-width="1.15" fill="none"/>
<path d="M423.80 676.55H430.40M427.10 673.15V679.95" stroke="#000" stroke-width="1.15" fill="none"/>
<path d="M438.80 676.57H445.40M442.10 673.17V679.97" stroke="#000" stroke-width="1.15" fill="none"/>
<path d="M453.80 676.59H460.40M457.10 673.19V679.99" stroke="#000" stroke-width="1.15" fill="none"/>
<path d="M472.50 676.62H479.10M475.80 673.22V680.02" stroke="#000" stroke-width="1.15" fill="none"/>
<path d="M487.50 676.65H494.10M490.80 673.25V680.05" stroke="#000" stroke-width="1.15" fill="none"/>
<path d="M502.50 676.67H509.10M505.80 673.27V680.07" stroke="#000" stroke-width="1.15" fill="none"/>
<rect x="83.30" y="695.55" width="3.2" height="1.5" rx="0.4" fill="#000"/>
<rect x="99.30" y="695.57" width="3.2" height="1.5" rx="0.4" fill="#000"/>
<rect x="115.90" y="695.60" width="3.2" height="1.5" rx="0.4" fill="#000"/>
<path d="M131.70 696.38H138.30M135.00 692.98V699.78" stroke="#000" stroke-width="1.15" fill="none"/>
<path d="M146.70 696.40H153.30M150.00 693.00V699.80" stroke="#000" stroke-width="1.15" fill="none"/>
<path d="M161.70 696.43H168.30M165.00 693.03V699.83" stroke="#000" stroke-width="1.15" fill="none"/>
<rect x="181.10" y="695.70" width="3.2" height="1.5" rx="0.4" fill="#000"/>
<rect x="197.30" y="695.73" width="3.2" height="1.5" rx="0.4" fill="#000"/>
<rect x="213.50" y="695.76" width="3.2" height="1.5" rx="0.4" fill="#000"/>
<rect x="230.20" y="695.78" width="3.2" height="1.5" rx="0.4" fill="#000"/>
<rect x="246.00" y="695.81" width="3.2" height="1.5" rx="0.4" fill="#000"/>
<rect x="262.20" y="695.83" width="3.2" height="1.5" rx="0.4" fill="#000"/>
<path d="M278.00 696.61H284.60M281.30 693.21V700.01" stroke="#000" stroke-width="1.15" fill="none"/>
<path d="M293.00 696.64H299.60M296.30 693.24V700.04" stroke="#000" stroke-width="1.15" fill="none"/>
<path d="M308.00 696.66H314.60M311.30 693.26V700.06" stroke="#000" stroke-width="1.15" fill="none"/>
<rect x="327.20" y="695.94" width="3.2" height="1.5" rx="0.4" fill="#000"/>
<rect x="343.40" y="695.96" width="3.2" height="1.5" rx="0.4" fill="#000"/>
<rect x="359.60" y="695.99" width="3.2" height="1.5" rx="0.4" fill="#000"/>
<rect x="375.40" y="696.02" width="3.2" height="1.5" rx="0.4" fill="#000"/>
<rect x="392.10" y="696.04" width="3.2" height="1.5" rx="0.4" fill="#000"/>
<rect x="408.40" y="696.07" width="3.2" height="1.5" rx="0.4" fill="#000"/>
<path d="M423.70 696.85H430.30M427.00 693.45V700.25" stroke="#000" stroke-width="1.15" fill="none"/>
<path d="M438.70 696.87H445.30M442.00 693.47V700.27" stroke="#000" stroke-width="1.15" fill="none"/>
<path d="M453.70 696.89H460.30M457.00 693.49V700.29" stroke="#000" stroke-width="1.15" fill="none"/>
<rect x="474.20" y="696.17" width="3.2" height="1.5" rx="0.4" fill="#000"/>
<rect x="490.40" y="696.20" width="3.2" height="1.5" rx="0.4" fill="#000"/>
<rect x="506.60" y="696.23" width="3.2" height="1.5" rx="0.4" fill="#000"/>
<rect x="83.20" y="723.65" width="3.2" height="1.5" rx="0.4" fill="#000"/>
<rect x="99.00" y="723.67" width="3.2" height="1.5" rx="0.4" fill="#000"/>
<rect x="115.50" y="723.70" width="3.2" height="1.5" rx="0.4" fill="#000"/>
<rect x="132.00" y="723.73" width="3.2" height="1.5" rx="0.4" fill="#000"/>
<rect x="148.40" y="723.75" width="3.2" height="1.5" rx="0.4" fill="#000"/>
<rect x="164.60" y="723.78" width="3.2" height="1.5" rx="0.4" fill="#000"/>
<path d="M180.50 724.56H187.10M183.80 721.16V727.96" stroke="#000" stroke-width="1.15" fill="none"/>
<path d="M195.10 724.58H201.70M198.40 721.18V727.98" stroke="#000" stroke-width="1.15" fill="none"/>
<path d="M210.10 724.60H216.70M213.40 721.20V728.00" stroke="#000" stroke-width="1.15" fill="none"/>
<rect x="229.70" y="723.88" width="3.2" height="1.5" rx="0.4" fill="#000"/>
<rect x="245.70" y="723.91" width="3.2" height="1.5" rx="0.4" fill="#000"/>
<rect x="261.70" y="723.93" width="3.2" height="1.5" rx="0.4" fill="#000"/>
<rect x="278.40" y="723.96" width="3.2" height="1.5" rx="0.4" fill="#000"/>
<rect x="294.60" y="723.99" width="3.2" height="1.5" rx="0.4" fill="#000"/>
<rect x="310.40" y="724.01" width="3.2" height="1.5" rx="0.4" fill="#000"/>
<path d="M326.20 724.79H332.80M329.50 721.39V728.19" stroke="#000" stroke-width="1.15" fill="none"/>
<path d="M341.10 724.81H347.70M344.40 721.41V728.21" stroke="#000" stroke-width="1.15" fill="none"/>
<path d="M356.20 724.84H362.80M359.50 721.44V728.24" stroke="#000" stroke-width="1.15" fill="none"/>
<rect x="375.40" y="724.12" width="3.2" height="1.5" rx="0.4" fill="#000"/>
<rect x="391.70" y="724.14" width="3.2" height="1.5" rx="0.4" fill="#000"/>
<rect x="407.90" y="724.17" width="3.2" height="1.5" rx="0.4" fill="#000"/>
<rect x="424.70" y="724.19" width="3.2" height="1.5" rx="0.4" fill="#000"/>
<rect x="440.90" y="724.22" width="3.2" height="1.5" rx="0.4" fill="#000"/>
<rect x="457.10" y="724.25" width="3.2" height="1.5" rx="0.4" fill="#000"/>
<path d="M473.00 725.02H479.60M476.30 721.62V728.42" stroke="#000" stroke-width="1.15" fill="none"/>
<path d="M488.00 725.05H494.60M491.30 721.65V728.45" stroke="#000" stroke-width="1.15" fill="none"/>
<path d="M503.00 725.07H509.60M506.30 721.67V728.47" stroke="#000" stroke-width="1.15" fill="none"/>
<path d="M373 732.7V741.9H512.5V732.7" stroke="#000" stroke-width="1.1" fill="none"/>
<text x="421.2" y="755" font-size="12" font-family="Liberation Serif, serif" font-weight="bold" stroke="#000" stroke-width="0.18">MRK 16</text>
</svg>
</body></html>
